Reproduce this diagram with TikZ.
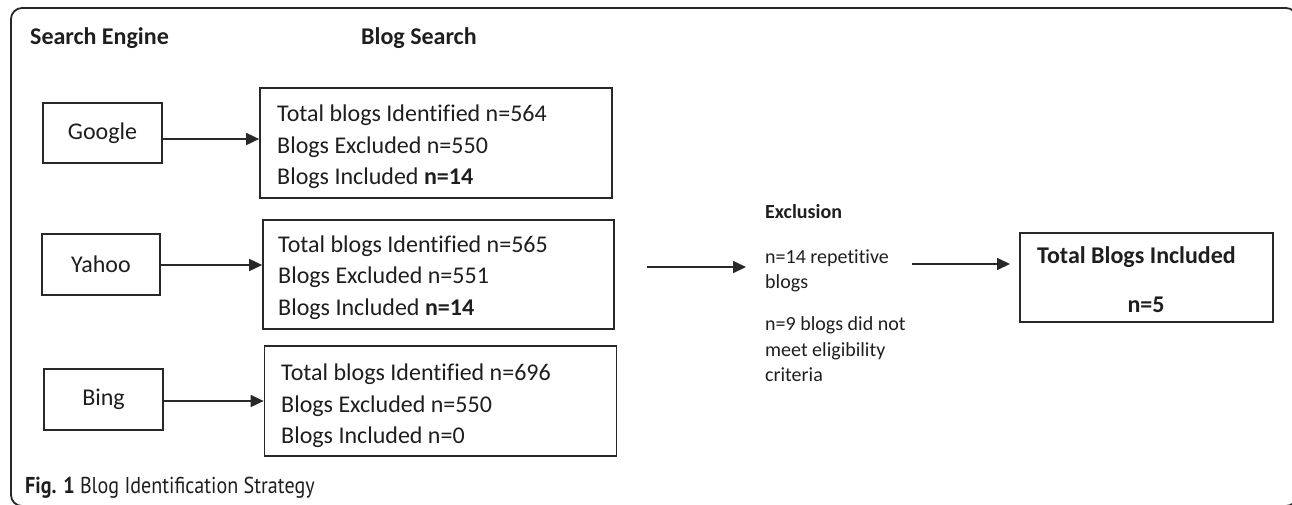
\documentclass[tikz,border=0pt]{standalone}
\usepackage{fontspec}
\setmainfont{Carlito}[Ligatures=NoCommon]
\newfontfamily\capfont{PT Sans}
\usetikzlibrary{arrows.meta}
\definecolor{ink}{RGB}{30,30,30}
\definecolor{linec}{RGB}{40,40,40}
\tikzset{
  box/.style={draw=linec, line width=1.7pt, inner sep=0pt, fill=white},
  txt/.style={font=\fontsize{24}{29}\selectfont, inner sep=0pt, anchor=base west, text=ink},
  btxt/.style={font=\fontsize{24}{29}\selectfont\bfseries, inner sep=0pt, anchor=base west, text=ink},
  stxt/.style={font=\fontsize{20}{24}\selectfont, inner sep=0pt, anchor=base west, text=ink},
  sbtxt/.style={font=\fontsize{20}{24}\selectfont\bfseries, inner sep=0pt, anchor=base west, text=ink},
  arr/.style={draw=linec, line width=1.7pt, -{Triangle[length=13pt,width=12pt]}},
}
\begin{document}
\begin{tikzpicture}[x=1pt,y=-1pt]
\useasboundingbox (0,0) rectangle (1292,504);
\begin{scope}
\clip (0,0) rectangle (1292,504);
\draw[linec, line width=1.8pt, rounded corners=11pt] (11,8) rectangle (1297,506);
\end{scope}

% headers
\node[btxt] (hse) at (30,44) {Search Engine};
\node[btxt] (hbs) at (361,44) {Blog Search};

% search engine boxes
\node[box, minimum width=119pt, minimum height=60pt, font=\fontsize{24}{29}\selectfont, text=ink] (google) at (102.5,133) {Google};
\node[box, minimum width=118pt, minimum height=61pt, font=\fontsize{24}{29}\selectfont, text=ink] (yahoo) at (101,264.5) {Yahoo};
\node[box, minimum width=119pt, minimum height=61pt, font=\fontsize{24}{29}\selectfont, text=ink] (bing) at (103.5,399.5) {Bing};

% blog search boxes
\node[box, minimum width=352pt, minimum height=110pt] (b1) at (436,143) {};
\node[box, minimum width=351pt, minimum height=109pt] (b2) at (438.5,274.5) {};
\node[box, minimum width=352pt, minimum height=110pt] (b3) at (440.5,401) {};

\node[txt] (b1l1) at (277,121) {Total blogs Identified n=564};
\node[txt] (b1l2) at (277,153) {Blogs Excluded n=550};
\node[txt] (b1l3) at (277,184) {Blogs Included \textbf{n=14}};

\node[txt] (b2l1) at (278,252) {Total blogs Identified n=565};
\node[txt] (b2l2) at (278,283) {Blogs Excluded n=551};
\node[txt] (b2l3) at (278,315) {Blogs Included \textbf{n=14}};

\node[txt] (b3l1) at (281,380) {Total blogs Identified n=696};
\node[txt] (b3l2) at (281,412) {Blogs Excluded n=550};
\node[txt] (b3l3) at (281,443) {Blogs Included n=0};

% arrows engine -> blog search
\draw[arr] ([yshift=-6pt]google.east) -- ([yshift=-6pt]google.east -| b1.west);
\draw[arr] ([yshift=-0.5pt]yahoo.east) -- ([yshift=-0.5pt]yahoo.east -| b2.west);
\draw[arr] ([yshift=-1.5pt]bing.east) -- ([yshift=-1.5pt]bing.east -| b3.west);

% exclusion
\node[sbtxt] (ex) at (765,218.5) {Exclusion};
\node[stxt] (ex1) at (765,263.5) {n=14 repetitive};
\node[stxt] (ex2) at (765,288.5) {blogs};
\node[stxt] (ex3) at (765,330.5) {n=9 blogs did not};
\node[stxt] (ex4) at (765,356) {meet eligibility};
\node[stxt] (ex5) at (765,381.5) {criteria};

\coordinate (a1s) at (647,267);
\coordinate (a1e) at (746,267);
\draw[arr] (a1s) -- (a1e);

% total box
\node[box, minimum width=253pt, minimum height=89pt] (tot) at (1146.5,277.5) {};
\node[btxt] (tot1) at (1037,263) {Total Blogs Included};
\node[btxt, anchor=base] (tot2) at (1146,312) {n=5};

\coordinate (a2s) at (912,264);
\coordinate (a2e) at (1010,264);
\draw[arr] (a2s) -- (a2e);

% caption
\node[inner sep=0pt, anchor=base west, text=ink, font=\capfont\fontsize{23}{28}\selectfont] (cap) at (25,493) {\scalebox{0.873}[1]{\textbf{Fig. 1} Blog Identification Strategy}};
\end{tikzpicture}
\end{document}
